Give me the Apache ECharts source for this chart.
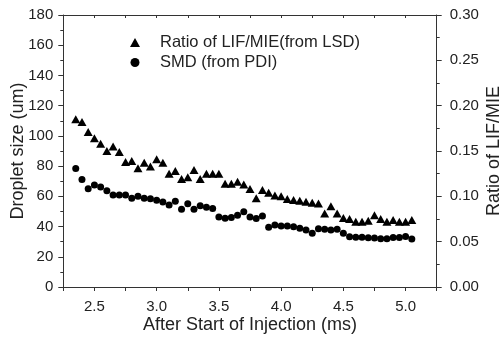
<!DOCTYPE html>
<html>
<head>
<meta charset="utf-8">
<script src="https://cdn.jsdelivr.net/npm/echarts@6/dist/echarts.min.js"></script>
<style>
html,body{margin:0;padding:0;background:#fff;}
#c{width:501px;height:340px;}
</style>
</head>
<body>
<div id="c"></div>
<script>
// Time after start of injection (ms)
var times = [2.35,2.40,2.45,2.50,2.55,2.60,2.65,2.70,2.75,2.80,2.85,2.90,2.95,3.00,3.05,3.10,3.15,3.20,3.25,3.30,3.35,3.40,3.45,3.50,3.55,3.60,3.65,3.70,3.75,3.80,3.85,3.90,3.95,4.00,4.05,4.10,4.15,4.20,4.25,4.30,4.35,4.40,4.45,4.50,4.55,4.60,4.65,4.70,4.75,4.80,4.85,4.90,4.95,5.00,5.05];
// Ratio of LIF/MIE (from LSD) - right axis
var ratioLifMie = [0.185,0.182,0.171,0.164,0.158,0.150,0.155,0.149,0.138,0.139,0.131,0.137,0.133,0.141,0.137,0.125,0.128,0.119,0.121,0.129,0.119,0.125,0.125,0.125,0.114,0.114,0.116,0.113,0.108,0.098,0.107,0.104,0.101,0.100,0.097,0.096,0.095,0.094,0.093,0.092,0.081,0.089,0.081,0.076,0.075,0.072,0.072,0.073,0.079,0.075,0.072,0.074,0.072,0.072,0.074];
// SMD (from PDI) droplet size (um) - left axis
var smd = [78.4,71.1,65.1,67.5,66.2,63.7,60.9,60.9,60.9,58.8,60.1,58.7,58.4,57.4,56.3,54.3,56.7,51.4,55.1,51.5,53.7,52.7,52.0,46.3,45.5,46.0,47.5,49.8,46.3,45.3,47.0,39.5,41.0,40.4,40.4,39.9,38.8,37.7,35.5,38.6,38.2,37.7,38.2,35.5,33.3,33.0,33.0,32.6,32.5,32.0,32.0,32.8,32.8,33.5,31.8];
var xTickLabels = [2.5,3.0,3.5,4.0,4.5,5.0];
var seriesNames = ['Ratio of LIF/MIE(from LSD)','SMD (from PDI)'];
var xName = 'After Start of Injection (ms)';
var yLeftName = 'Droplet size (um)';
var yRightName = 'Ratio of LIF/MIE';

var ch = echarts.init(document.getElementById('c'), null, {renderer:'canvas'});
var font = "'Liberation Sans', Arial, sans-serif";
var lineCol = '#333';
var txtCol = '#222';

function pairs(xs, ys){ return xs.map(function(x,i){return [x, ys[i]];}); }

ch.setOption({
  animation:false,
  backgroundColor:'#fff',
  textStyle:{fontFamily:font},
  grid:{left:63.3, right:64.3, top:15, bottom:53, containLabel:false, outerBoundsMode:'none'},
  legend:{
    orient:'vertical', left:125, top:28.5, itemGap:2,
    itemWidth:10, itemHeight:9,
    textStyle:{fontSize:16.5, color:txtCol, fontFamily:font, lineHeight:18, padding:[0,0,0,15]},
    data:[{name:seriesNames[0], icon:'triangle'},{name:seriesNames[1], icon:'circle'}]
  },
  xAxis:[{
    type:'value', min:2.25, max:5.25, interval:0.25,
    name:xName, nameLocation:'middle', nameGap:29, nameMoveOverlap:false,
    nameTextStyle:{fontSize:18, color:txtCol, fontFamily:font},
    axisLine:{show:true, onZero:false, lineStyle:{color:lineCol, width:1}},
    axisTick:{show:true, inside:false, length:4, lineStyle:{color:lineCol}},
    axisLabel:{fontSize:15, color:txtCol, margin:12, fontFamily:font,
      formatter:function(v){
        for (var i=0;i<xTickLabels.length;i++){ if (Math.abs(v-xTickLabels[i])<1e-6) return xTickLabels[i].toFixed(1); }
        return '';
      }},
    splitLine:{show:false}
  },{
    type:'value', position:'top', min:2.25, max:5.25, interval:0.25,
    axisLine:{show:true, onZero:false, lineStyle:{color:lineCol, width:1}},
    axisTick:{show:true, inside:true, length:3, lineStyle:{color:lineCol}},
    axisLabel:{show:false}, splitLine:{show:false}
  }],
  yAxis:[{
    type:'value', min:0, max:180, interval:20, position:'left',
    name:yLeftName, nameLocation:'middle', nameGap:36, nameRotate:90, nameMoveOverlap:false,
    nameTextStyle:{fontSize:18, color:txtCol, fontFamily:font},
    axisLine:{show:true, onZero:false, lineStyle:{color:lineCol, width:1}},
    axisTick:{show:true, inside:false, length:5, lineStyle:{color:lineCol}},
    minorTick:{show:true, splitNumber:2, length:3, lineStyle:{color:lineCol}},
    axisLabel:{fontSize:15, color:txtCol, margin:10, fontFamily:font},
    splitLine:{show:false}, minorSplitLine:{show:false}
  },{
    type:'value', min:0, max:0.30, interval:0.05, position:'right',
    name:yRightName, nameLocation:'middle', nameGap:48, nameRotate:90, nameMoveOverlap:false,
    nameTextStyle:{fontSize:18, color:txtCol, fontFamily:font},
    axisLine:{show:true, onZero:false, lineStyle:{color:lineCol, width:1}},
    axisTick:{show:true, inside:false, length:5, lineStyle:{color:lineCol}},
    minorTick:{show:true, splitNumber:2, length:3, lineStyle:{color:lineCol}},
    axisLabel:{fontSize:15, color:txtCol, margin:13, fontFamily:font,
      formatter:function(v){return v.toFixed(2);}},
    splitLine:{show:false}, minorSplitLine:{show:false}
  }],
  series:[{
    name:seriesNames[0], type:'scatter', xAxisIndex:0, yAxisIndex:1,
    symbol:'triangle', symbolSize:[9,8],
    itemStyle:{color:'#000', opacity:1},
    data:pairs(times, ratioLifMie)
  },{
    name:seriesNames[1], type:'scatter', xAxisIndex:0, yAxisIndex:0,
    symbol:'circle', symbolSize:7,
    itemStyle:{color:'#000', opacity:1},
    data:pairs(times, smd)
  }]
});
</script>
</body>
</html>
